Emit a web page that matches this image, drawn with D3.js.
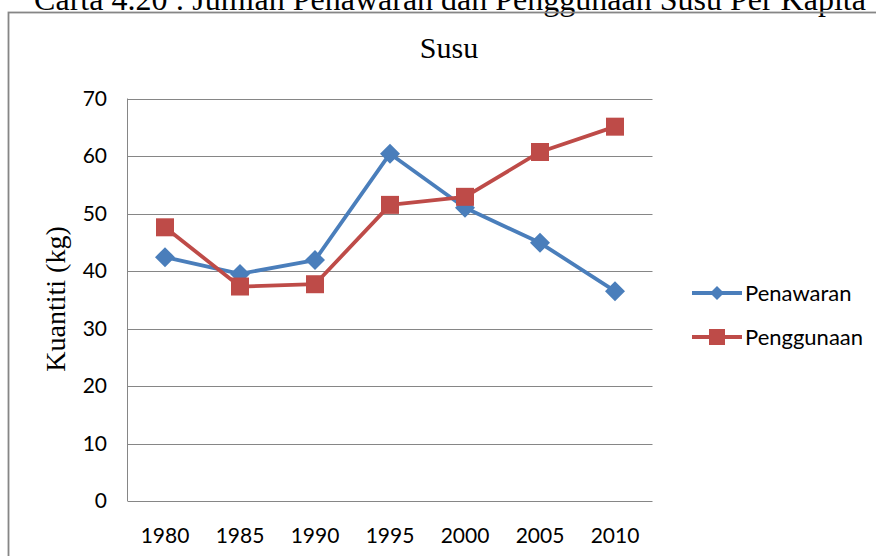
<!DOCTYPE html>
<html>
<head>
<meta charset="utf-8">
<script src="https://cdn.jsdelivr.net/npm/d3@7"></script>
<style>
  body { margin: 0; background: #fff; }
</style>
</head>
<body>
<div id="chart"></div>
<script>
// data
const years = ["1980", "1985", "1990", "1995", "2000", "2005", "2010"];
const penawaran = [42.4, 39.5, 41.9, 60.4, 51.0, 44.9, 36.5];
const penggunaan = [47.6, 37.3, 37.7, 51.5, 52.9, 60.7, 65.1];
const yTicks = [0, 10, 20, 30, 40, 50, 60, 70];
const seriesNames = ["Penawaran", "Penggunaan"];

let width = 876,
  height = 556;

let svg = d3
  .select("#chart")
  .append("svg")
  .attr("width", width)
  .attr("height", height);

// caption, cut off by the top edge like in the scan
svg
  .append("text")
  .attr("x", 450)
  .attr("y", 10)
  .attr("text-anchor", "middle")
  .style("font-family", "Liberation Serif")
  .style("font-size", "32px")
  .text("Carta 4.20 : Jumlah Penawaran dan Penggunaan Susu Per Kapita");

// chart frame
svg
  .append("rect")
  .attr("x", 8.5)
  .attr("y", 12.5)
  .attr("width", 900)
  .attr("height", 600)
  .attr("fill", "none")
  .attr("stroke", "#868686")
  .attr("stroke-width", 1.8);

let x = d3.scaleBand().domain(years).range([127.5, 652.5]);
let y = d3.scaleLinear().domain([0, 70]).range([501, 98.5]);

// gridlines
svg
  .selectAll(".grid")
  .data(yTicks)
  .join("line")
  .attr("x1", 127.5)
  .attr("x2", 652.5)
  .attr("y1", (d) => Math.round(y(d)) + 0.5)
  .attr("y2", (d) => Math.round(y(d)) + 0.5)
  .attr("stroke", "#868686")
  .attr("stroke-width", 1);

// y axis line
svg
  .append("line")
  .attr("x1", 127.5)
  .attr("x2", 127.5)
  .attr("y1", y(70))
  .attr("y2", y(0))
  .attr("stroke", "#868686");

// y tick labels
svg
  .selectAll(".ylab")
  .data(yTicks)
  .join("text")
  .attr("x", 107)
  .attr("y", (d) => y(d))
  .attr("dy", "0.35em")
  .attr("text-anchor", "end")
  .style("font-family", "Lato")
  .style("font-size", "21px")
  .style("fill", "#000")
  .text((d) => d);

// x tick labels
svg
  .selectAll(".xlab")
  .data(years)
  .join("text")
  .attr("x", (d) => x(d) + x.bandwidth() / 2)
  .attr("y", 543)
  .attr("text-anchor", "middle")
  .style("font-family", "Lato")
  .style("font-size", "21px")
  .text((d) => d);

// title
svg
  .append("text")
  .attr("x", 449)
  .attr("y", 58)
  .attr("text-anchor", "middle")
  .style("font-family", "Liberation Serif")
  .style("font-size", "30px")
  .text("Susu");

// y axis title
svg
  .append("text")
  .attr("transform", "translate(65,299) rotate(-90)")
  .attr("text-anchor", "middle")
  .style("font-family", "Liberation Serif")
  .style("font-size", "28px")
  .text("Kuantiti (kg)");

let colors = ["#4a7ebb", "#be4b48"];
let line = d3
  .line()
  .x((d, i) => x(years[i]) + x.bandwidth() / 2)
  .y((d) => y(d));

[penawaran, penggunaan].forEach((vals, s) => {
  svg
    .append("path")
    .attr("d", line(vals))
    .attr("fill", "none")
    .attr("stroke", colors[s])
    .attr("stroke-width", 3.8)
    .attr("stroke-linejoin", "round");
});

let diamond = "M0,-10L10,0L0,10L-10,0Z";
let square = "M-9,-9H9V9H-9Z";

svg
  .selectAll(".m1")
  .data(penawaran)
  .join("path")
  .attr("d", diamond)
  .attr("transform", (d, i) => `translate(${x(years[i]) + x.bandwidth() / 2},${y(d)})`)
  .attr("fill", colors[0]);

svg
  .selectAll(".m2")
  .data(penggunaan)
  .join("path")
  .attr("d", square)
  .attr("transform", (d, i) => `translate(${x(years[i]) + x.bandwidth() / 2},${y(d)})`)
  .attr("fill", colors[1]);

// legend
let legend = svg
  .selectAll(".legend")
  .data(seriesNames)
  .join("g")
  .attr("transform", (d, i) => `translate(692,${293 + i * 44})`);

legend
  .append("line")
  .attr("x1", 0)
  .attr("x2", 50)
  .attr("stroke", (d, i) => colors[i])
  .attr("stroke-width", 3.8);

legend
  .append("path")
  .attr("d", (d, i) => (i == 0 ? "M0,-7L7,0L0,7L-7,0Z" : "M-8,-8H8V8H-8Z"))
  .attr("transform", "translate(25,0)")
  .attr("fill", (d, i) => colors[i]);

legend
  .append("text")
  .attr("x", 53)
  .attr("dy", "0.35em")
  .style("font-family", "Lato")
  .style("font-size", "22px")
  .text((d) => d);
</script>
</body>
</html>
